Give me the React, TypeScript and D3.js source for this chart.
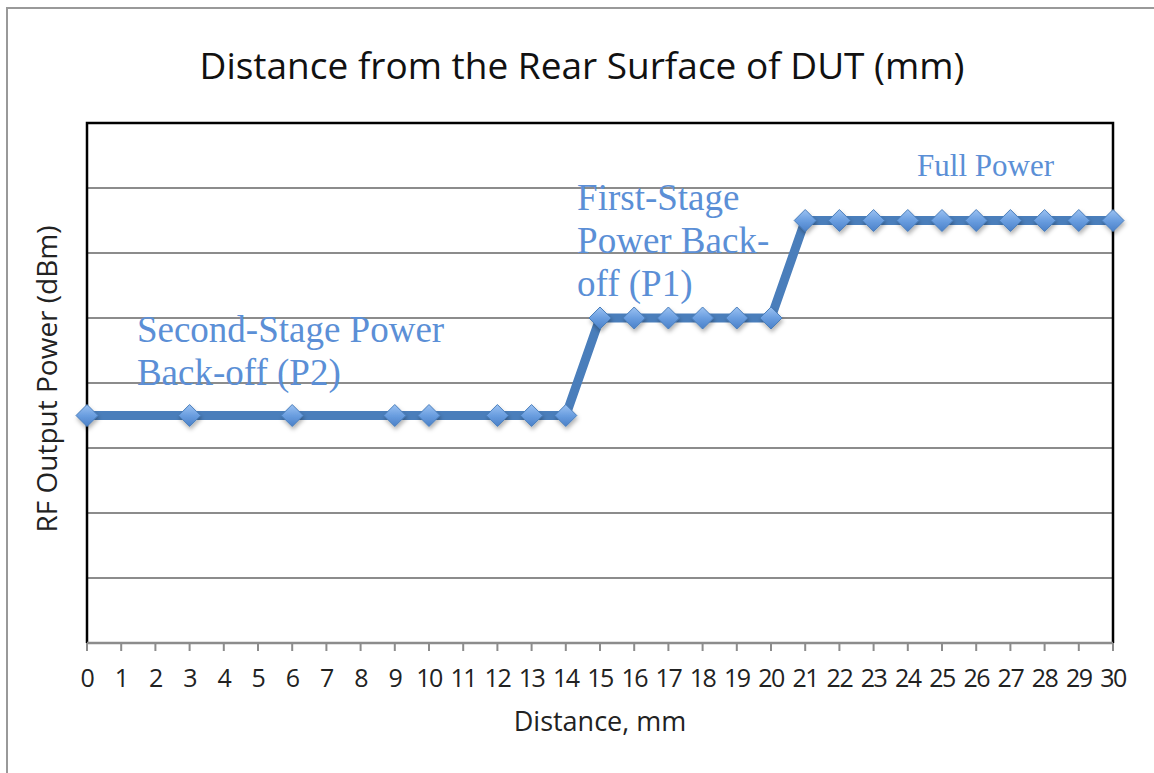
import React from 'react';
import * as d3 from 'd3';

// distance (mm) for each measured point
const distances = [0, 3, 6, 9, 10, 12, 13, 14, 15, 16, 17, 18, 19, 20, 21, 22, 23, 24, 25, 26, 27, 28, 29, 30];
// relative power level (no tick labels on y)
const power = [3.5, 3.5, 3.5, 3.5, 3.5, 3.5, 3.5, 3.5, 5, 5, 5, 5, 5, 5, 6.5, 6.5, 6.5, 6.5, 6.5, 6.5, 6.5, 6.5, 6.5, 6.5];
const xTicks = d3.range(0, 31);
const yGrid = [1, 2, 3, 4, 5, 6, 7];

const annotations = [
  { lines: ['Second-Stage Power', 'Back-off (P2)'], x: 1.46, y: 4.63, size: 37 },
  { lines: ['First-Stage', 'Power Back-', 'off (P1)'], x: 14.33, y: 6.66, size: 37 },
  { lines: ['Full Power'], x: 24.27, y: 7.18, size: 31 },
];

const W = 1154;
const H = 773;
const margin = { top: 123, right: 41, bottom: 130, left: 87 };

const App: React.FC = () => {
  const iw = W - margin.left - margin.right;
  const ih = H - margin.top - margin.bottom;

  const x = d3.scaleLinear().domain([0, 30]).range([0, iw]);
  const y = d3.scaleLinear().domain([0, 8]).range([ih, 0]);

  const pts = distances.map((d, i) => ({ d, p: power[i] }));
  const line = d3
    .line<{ d: number; p: number }>()
    .x((v) => x(v.d))
    .y((v) => y(v.p));

  const sans = '"Open Sans", "DejaVu Sans", sans-serif';
  const serif = '"Liberation Serif", "DejaVu Serif", serif';
  const r = 11;

  return (
    <svg width={W} height={H} style={{ position: 'absolute', left: 0, top: 0, background: '#fff' }}>
      <defs>
        <linearGradient id='dia' x1='0' y1='0' x2='0' y2='1'>
          <stop offset='0' stopColor='#9cc2f2' />
          <stop offset='0.5' stopColor='#6a9ee0' />
          <stop offset='1' stopColor='#4a80c8' />
        </linearGradient>
        <filter id='shadow' x='-50%' y='-50%' width='200%' height='200%'>
          <feDropShadow dx='1' dy='3' stdDeviation='2' floodColor='#000' floodOpacity='0.3' />
        </filter>
      </defs>
      {/* outer frame */}
      <rect x={7} y={8} width={W + 10} height={H + 10} fill='none' stroke='#999' strokeWidth={2} />
      <text x={582} y={79} textAnchor='middle' fontFamily={sans} fontSize={37} fill='#111'>
        Distance from the Rear Surface of DUT (mm)
      </text>
      <g transform={`translate(${margin.left},${margin.top})`}>
        {yGrid.map((g) => (
          <line key={g} x1={0} x2={iw} y1={y(g)} y2={y(g)} stroke='#8c8c8c' strokeWidth={2} />
        ))}
        {/* frame: left, top, right black; bottom gray axis */}
        <path d={`M0,${ih}V0H${iw}V${ih}`} fill='none' stroke='#000' strokeWidth={2.5} />
        <line x1={0} x2={iw} y1={ih} y2={ih} stroke='#8c8c8c' strokeWidth={2.5} />
        {xTicks.map((t) => (
          <g key={t} transform={`translate(${x(t)},${ih})`}>
            <line y1={0} y2={8} stroke='#8c8c8c' strokeWidth={2} />
            <text y={44} textAnchor='middle' fontFamily={sans} fontSize={25} letterSpacing={-1.5} fill='#222'>
              {t}
            </text>
          </g>
        ))}
        <path d={line(pts) ?? ''} fill='none' stroke='#4a7ebb' strokeWidth={9} strokeLinejoin='round' />
        {pts.map((v, i) => (
          <path
            key={i}
            transform={`translate(${x(v.d)},${y(v.p)})`}
            d={`M0,${-r}L${r},0L0,${r}L${-r},0Z`}
            fill='url(#dia)'
            stroke='#4a7ebb'
            strokeWidth={1}
            filter='url(#shadow)'
          />
        ))}
        {annotations.map((a, i) => (
          <text key={i} x={x(a.x)} y={y(a.y)} fontFamily={serif} fontSize={a.size} fill='#5b8fd6'>
            {a.lines.map((l, j) => (
              <tspan key={j} x={x(a.x)} dy={j === 0 ? 0 : 43}>
                {l}
              </tspan>
            ))}
          </text>
        ))}
      </g>
      <text x={600} y={731} textAnchor='middle' fontFamily={sans} fontSize={27} fill='#222'>
        Distance, mm
      </text>
      <text
        transform={`translate(57,${margin.top + ih / 2 - 4}) rotate(-90)`}
        textAnchor='middle'
        fontFamily={sans}
        fontSize={28}
        fill='#222'
      >
        RF Output Power (dBm)
      </text>
    </svg>
  );
};

export default App;
